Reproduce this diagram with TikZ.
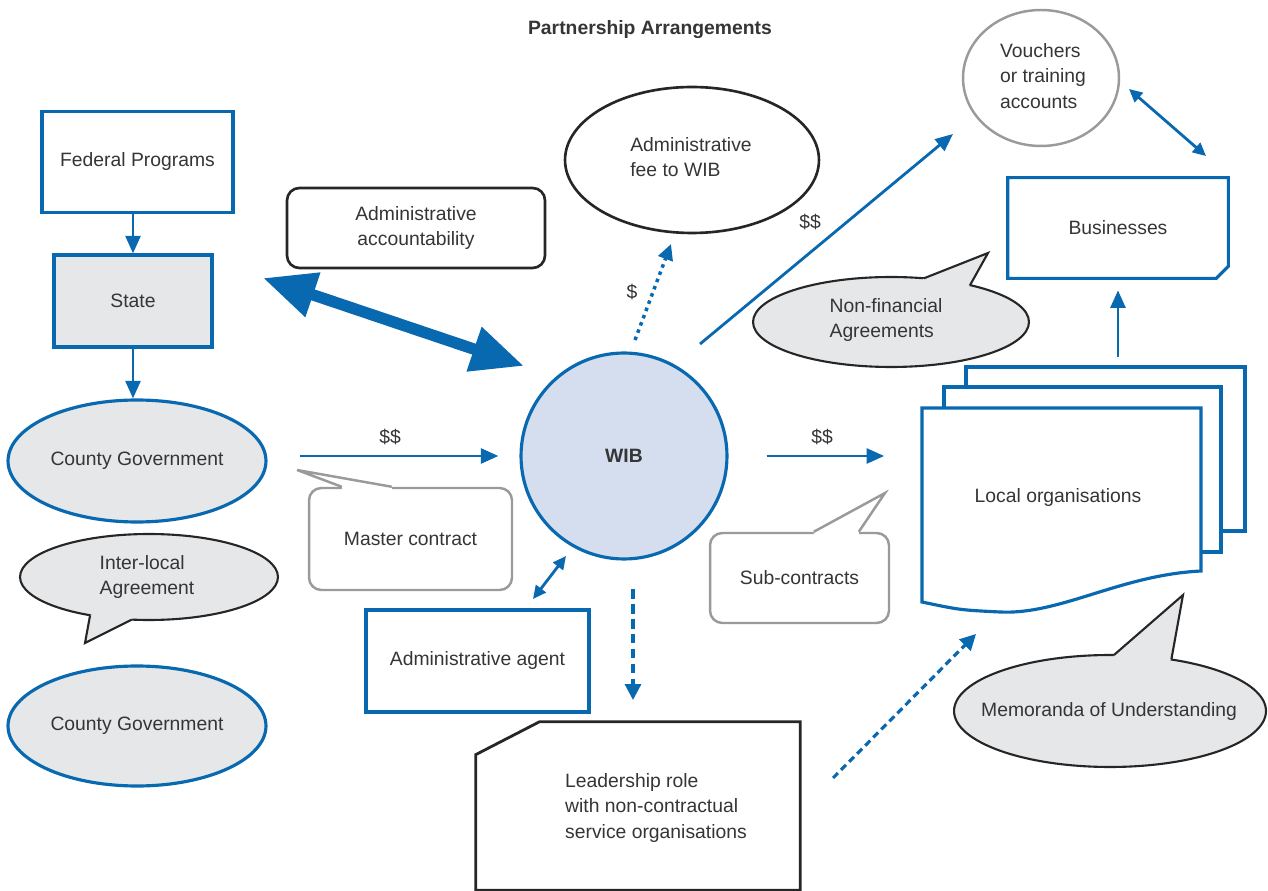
\documentclass[tikz,border=0pt]{standalone}
\usepackage{fontspec}
\setmainfont{Liberation Sans}
\usetikzlibrary{shapes.geometric,arrows.meta,calc}

\definecolor{wibblue}{HTML}{0868B0}
\definecolor{callgray}{HTML}{E6E7E8}
\definecolor{wibfill}{HTML}{D4DEEF}
\definecolor{edgegray}{HTML}{9A9A9A}
\definecolor{txtgray}{HTML}{353535}

\tikzset{
  bluebox/.style={draw=wibblue, line width=1.8pt, fill=white, inner sep=0pt},
  blackbox/.style={draw=black!85, line width=1.5pt, fill=white, inner sep=0pt},
  graybubble/.style={draw=edgegray, line width=1.4pt, fill=white, rounded corners=7pt, inner sep=0pt},
  blueell/.style={ellipse, draw=wibblue, line width=1.8pt, fill=callgray, inner sep=0pt},
  callell/.style={ellipse, draw=black!85, line width=1.2pt, fill=callgray, inner sep=0pt, outer sep=0pt},
  flow/.style={draw=wibblue, line width=1.6pt, -{Triangle[length=10pt,width=8.5pt]}},
  both/.style={draw=wibblue, line width=1.6pt, {Triangle[length=7.5pt,width=7pt]}-{Triangle[length=7.5pt,width=7pt]}},
  tailline/.style={line width=1.2pt, draw=black!85, line join=miter}
}

\begin{document}
\begin{tikzpicture}[x=0.02cm, y=-0.02cm, font=\fontsize{11}{14.5}\selectfont, text=txtgray]
    \useasboundingbox (0,0) rectangle (1268,891);

    %titulo
    \node[font=\fontsize{11}{14}\selectfont\bfseries] (title) at (650,30) {Partnership Arrangements};

    %extremos libres de flechas
    \coordinate (accL) at (263,278);
    \coordinate (accR) at (524,366);
    \coordinate (dolA) at (635,340);
    \coordinate (dolB) at (671,244);
    \coordinate (vouA) at (700,344);
    \coordinate (vouB) at (953,134);
    \coordinate (vbA) at (1129,89);
    \coordinate (vbB) at (1206,156);
    \coordinate (stackTop) at (1118,357);
    \coordinate (agA) at (533,599);
    \coordinate (agB) at (566,556);
    \coordinate (ldA) at (633,589);
    \coordinate (ldB) at (633,700);
    \coordinate (moA) at (833,778);
    \coordinate (moB) at (976,634);

    %columna izquierda
    \node[bluebox, minimum width=3.82cm, minimum height=2.02cm] (fed) at (137.5,162) {Federal Programs};
    \node[bluebox, fill=callgray, minimum width=3.16cm, minimum height=1.84cm] (state) at (133,301) {State};
    \node[blueell, minimum width=5.16cm, minimum height=2.44cm] (cg1) at (137,461) {County Government};
    \node[callell, minimum width=5.16cm, minimum height=1.72cm] (inter) at (149,577) {};
    \fill[callgray] (inter.213) -- (85,643) -- (inter.248) -- ($(inter.248)!0.1!(inter.center)$) -- ($(inter.213)!0.1!(inter.center)$) -- cycle; %cola
    \draw[tailline] (inter.213) -- (85,643) -- (inter.248);
    \node[align=left] (intertxt) at (147,577) {Inter-local\\Agreement};
    \node[blueell, minimum width=5.16cm, minimum height=2.4cm] (cg2) at (137,726) {County Government};
    \draw[flow] (fed.south -| state.north) -- (state.north); %Federal -> State
    \draw[flow] (state.south) -- (state.south |- cg1.north); %State -> County

    %rendicion de cuentas
    \node[blackbox, rounded corners=7pt, minimum width=5.16cm, minimum height=1.6cm, align=center] (acc) at (416,228) {Administrative\\accountability};
    \draw[wibblue, line width=6.5pt, {Triangle[length=30pt,width=25pt]}-{Triangle[length=30pt,width=25pt]}] (accL) -- (accR);

    %WIB
    \node[circle, draw=wibblue, fill=wibfill, line width=1.8pt, minimum size=4.12cm, font=\fontsize{11}{14}\selectfont\bfseries] (wib) at (624,456) {WIB};
    \draw[flow, shorten <=0.64cm, shorten >=0.42cm] (cg1.east |- wib.west) -- (wib.west); %County -> WIB
    \node (dd1) at (390,437) {\$\$};

    %contrato maestro
    \node[graybubble, minimum width=4.06cm, minimum height=2.04cm] (master) at (410.5,539) {Master contract};
    \fill[white] ($(master.north west)+(34,0)$) -- (297,470) -- ($(master.north west)+(84,0)$) -- ($(master.north west)+(84,4)$) -- ($(master.north west)+(34,4)$) -- cycle;
    \draw[draw=edgegray, line width=1.4pt, line join=miter] ($(master.north west)+(34,0)$) -- (297,470) -- ($(master.north west)+(84,0)$);

    %cuota administrativa
    \node[ellipse, draw=black!85, line width=1.5pt, minimum width=5.08cm, minimum height=2.92cm] (fee) at (692,160) {};
    \node[align=left] (feetxt) at (691,157) {Administrative\\fee to WIB};
    \draw[wibblue, line width=2pt, dash pattern=on 2pt off 2.4pt, -{Triangle[length=9pt,width=8.5pt]}] (dolA) -- (dolB);
    \node (d1) at (632,292) {\$};

    %vales
    \node[ellipse, draw=edgegray, line width=1.4pt, minimum width=3.12cm, minimum height=2.72cm] (vouch) at (1041,78) {};
    \node[align=left] (vouchtxt) at (1043,76) {Vouchers\\or training\\accounts};
    \draw[flow] (vouA) -- (vouB);
    \node (dd2) at (810,222) {\$\$};
    \draw[both] (vbA) -- (vbB);

    %empresas
    \node[minimum width=4.4cm, minimum height=2cm] (busi) at (1118,228) {Businesses};
    \draw[wibblue, line width=1.8pt] (busi.north west) -- (busi.north east) -- ($(busi.south east)+(0,-12)$) -- ($(busi.south east)+(-12,0)$) -- (busi.south west) -- cycle;

    %acuerdos no financieros
    \node[callell, minimum width=5.52cm, minimum height=1.8cm] (nonfin) at (891,322) {};
    \fill[callgray] (nonfin.53) -- (988,253) -- (nonfin.25) -- ($(nonfin.25)!0.1!(nonfin.center)$) -- ($(nonfin.53)!0.1!(nonfin.center)$) -- cycle;
    \draw[tailline] (nonfin.53) -- (988,253) -- (nonfin.25);
    \node[align=left] (nonfintxt) at (886,320) {Non-financial\\Agreements};

    %organizaciones locales
    \draw[wibblue, line width=1.8pt, fill=white] (966,367) rectangle (1245,531);
    \draw[wibblue, line width=1.8pt, fill=white] (944,387) rectangle (1221,552);
    \draw[wibblue, line width=1.8pt, fill=white] (922,408) -- (1201,408) -- (1201,571) .. controls (1120,575) and (1060,615) .. (1000,612) .. controls (960,610) .. (922,602) -- cycle;
    \node[minimum width=5.58cm, minimum height=3.3cm] (lo) at (1058,498) {Local organisations};
    \draw[flow, shorten <=0.76cm, shorten >=0.68cm] (wib.east) -- (wib.east -| lo.west); %WIB -> Local
    \node (dd3) at (822,437) {\$\$};
    \draw[flow, shorten >=0.24cm] (stackTop) -- (busi.south);

    %subcontratos
    \node[graybubble, minimum width=3.58cm, minimum height=1.8cm] (subc) at (799.5,578) {Sub-contracts};
    \fill[white] ($(subc.north west)+(105,0)$) -- (885,493) -- ($(subc.north west)+(150,0)$) -- ($(subc.north west)+(150,4)$) -- ($(subc.north west)+(105,4)$) -- cycle;
    \draw[draw=edgegray, line width=1.4pt, line join=miter] ($(subc.north west)+(105,0)$) -- (885,493) -- ($(subc.north west)+(150,0)$);

    %agente administrativo
    \node[bluebox, minimum width=4.46cm, minimum height=2.04cm] (agent) at (477.5,661) {Administrative agent};
    \draw[both] (agA) -- (agB);

    %liderazgo
    \node[minimum width=6.48cm, minimum height=3.36cm] (lead) at (638,806) {};
    \draw[black!85, line width=1.6pt] ($(lead.north west)+(0,33)$) -- ($(lead.north west)+(64,0)$) -- (lead.north east) -- (lead.south east) -- (lead.south west) -- cycle;
    \node[align=left] (leadtxt) at (656,808) {Leadership role\\with non-contractual\\service organisations};
    \draw[wibblue, line width=1.8pt, dash pattern=on 5.5pt off 3pt, -{Triangle[length=9pt,width=9pt]}] (ldA) -- (ldB);
    \draw[wibblue, line width=1.8pt, dash pattern=on 4pt off 2.5pt, -{Triangle[length=9pt,width=9pt]}] (moA) -- (moB);

    %memorandos
    \node[callell, minimum width=6.24cm, minimum height=2.24cm] (memo) at (1110,711) {};
    \fill[callgray] (memo.86) -- (1183,595) -- (memo.40) -- ($(memo.40)!0.1!(memo.center)$) -- ($(memo.86)!0.1!(memo.center)$) -- cycle;
    \draw[tailline] (memo.86) -- (1183,595) -- (memo.40);
    \node (memotxt) at (1109,712) {Memoranda of Understanding};
\end{tikzpicture}
\end{document}
